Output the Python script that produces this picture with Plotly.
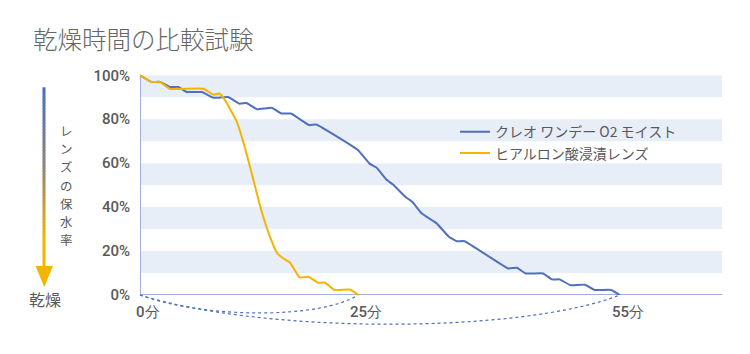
import plotly.graph_objects as go

# ---- data ----
blue_name = "クレオ ワンデー O2 モイスト"
blue_t = [0, 1.3, 2.3, 3.4, 4.4, 5.35, 7.1, 8.4, 10.1, 11.4, 12.2, 13.4, 15.1, 16.2, 17.3,
          19.4, 20.2, 25.0, 26.3, 27.1, 28.3, 29.0, 30.4, 31.2, 32.3, 34.0, 35.4, 36.3, 37.2,
          42.2, 43.2, 44.2, 46.2, 47.2, 48.1, 49.3, 51.0, 52.1, 54.0, 55]
blue_v = [100, 97, 97, 94.7, 94.7, 92.4, 92.4, 89.8, 90.1, 87.1, 87.4, 84.5, 85.2, 82.6, 82.6,
          77.3, 77.6, 65.9, 59.8, 58, 52.3, 50.3, 44.7, 42.4, 37.1, 32.6, 26.5, 24.5, 24.5,
          12.1, 12.4, 9.8, 9.8, 7.1, 7.1, 4.5, 4.7, 2.3, 2.3, 0]

orange_name = "ヒアルロン酸浸漬レンズ"
orange_t = [0, 1.3, 2.3, 3.4, 7.25, 8.4, 9.1, 9.55, 10.3, 11.1, 12.0, 13.0, 13.9, 14.9, 15.7,
            16.4, 17.2, 18.3, 19.3, 20.4, 21.2, 22.3, 24.1, 25]
orange_v = [100, 97, 97, 93.9, 93.9, 91.2, 91.7, 89.8, 84.8, 78.8, 67.4, 52.3, 38.6, 26.5, 19.2,
            16.7, 14.7, 8, 8.3, 5.6, 5.6, 2.3, 2.4, 0]

y_ticks = [0, 20, 40, 60, 80, 100]
y_tick_labels = ["0%", "20%", "40%", "60%", "80%", "100%"]
x_tick_vals = [0, 25, 55]
x_tick_labels = ["0分", "25分", "55分"]
band_starts = [10, 30, 50, 70, 90]
band_height = 10

title_text = "乾燥時間の比較試験"
side_label = "レンズの保水率"
bottom_label = "乾燥"

# ---- geometry ----
W, H = 750, 354
ML, MR, MB = 140, 28, 59
X_MAX = 66.7
Y_MAX = 101.5
PLOT_H = 220 * Y_MAX / 100
MT = H - MB - PLOT_H
PW = W - ML - MR


def px(x):
    return (x - ML) / PW


def py(y):
    return (H - MB - y) / PLOT_H


BLUE = "#5070bb"
ORANGE = "#f5b400"
TXT = "#595959"
AXIS = "#9eb0dc"
BAND = "#e8eef8"
CJK = "Noto Sans CJK JP"
NUM = "Roboto, sans-serif"

fig = go.Figure()
fig.add_trace(go.Scatter(x=blue_t, y=blue_v, mode="lines", name=blue_name,
                         line=dict(color=BLUE, width=2, shape="spline", smoothing=0.3)))
fig.add_trace(go.Scatter(x=orange_t, y=orange_v, mode="lines", name=orange_name,
                         line=dict(color=ORANGE, width=2, shape="spline", smoothing=0.5)))

shapes = []
for b in band_starts:
    shapes.append(dict(type="rect", xref="x", yref="y", x0=0, x1=X_MAX, y0=b, y1=b + band_height,
                       fillcolor=BAND, line=dict(width=0), layer="below"))
# axis lines
shapes.append(dict(type="line", xref="x", yref="y", x0=0, x1=0, y0=0, y1=100,
                   line=dict(color=AXIS, width=2), layer="below"))
shapes.append(dict(type="line", xref="x", yref="y", x0=0, x1=X_MAX, y0=0, y1=0,
                   line=dict(color=AXIS, width=2), layer="below"))


# dotted arcs (paper coords)
def arc(x0, x3, c1, c2, depth):
    p0 = (px(x0), py(295))
    p1 = (px(c1), py(295 + depth))
    p2 = (px(c2), py(295 + depth))
    p3 = (px(x3), py(295))
    return f"M {p0[0]},{p0[1]} C {p1[0]},{p1[1]} {p2[0]},{p2[1]} {p3[0]},{p3[1]}"


x25 = ML + 25 / X_MAX * PW
x55 = ML + 55 / X_MAX * PW
shapes.append(dict(type="path", xref="paper", yref="paper", path=arc(ML, x25, 205, 320, 24),
                   line=dict(color=BLUE, width=1.2, dash="dot")))
shapes.append(dict(type="path", xref="paper", yref="paper", path=arc(ML, x55, 265, 520, 39),
                   line=dict(color=BLUE, width=1.2, dash="dot")))


# gradient arrow
def lerp(a, b, f):
    return int(round(a + (b - a) * f))


c_top = (74, 108, 192)
c_mid = (140, 132, 120)
c_bot = (245, 180, 0)
y_a, y_b = 87, 267
n = 60
for i in range(n):
    f = i / (n - 1)
    if f < 0.45:
        g = f / 0.45
        col = tuple(lerp(c_top[k], c_mid[k], g) for k in range(3))
    elif f < 0.85:
        g = (f - 0.45) / 0.4
        col = tuple(lerp(c_mid[k], c_bot[k], g) for k in range(3))
    else:
        col = c_bot
    ya = y_a + (y_b - y_a) * i / n
    yb = y_a + (y_b - y_a) * (i + 1) / n + 0.5
    shapes.append(dict(type="line", xref="paper", yref="paper", x0=px(44), x1=px(44),
                       y0=py(ya), y1=py(yb), line=dict(color="rgb(%d,%d,%d)" % col, width=3)))
shapes.append(dict(type="path", xref="paper", yref="paper",
                   path=f"M {px(35.5)},{py(266)} L {px(53)},{py(266)} L {px(44.2)},{py(287)} Z",
                   fillcolor=ORANGE, line=dict(width=0)))

annotations = []
for i, ch in enumerate(side_label):
    annotations.append(dict(xref="paper", yref="paper", x=px(66), y=py(130 + i * 18.3),
                            text=ch, showarrow=False, xanchor="center", yanchor="middle",
                            borderpad=0,
                            font=dict(family=CJK, size=12.5, color=TXT)))
annotations.append(dict(xref="paper", yref="paper", x=px(45), y=py(299), text=bottom_label,
                        showarrow=False, xanchor="center", yanchor="middle",
                        font=dict(family=CJK, size=16, color=TXT)))
for v, t in zip(x_tick_vals, x_tick_labels):
    annotations.append(dict(xref="x", yref="paper", x=v, y=py(312), text=t, showarrow=False,
                            xanchor="center", yanchor="middle", xshift=8,
                            font=dict(family=NUM, size=15, color=TXT, weight=500)))

fig.update_layout(
    width=W, height=H,
    margin=dict(l=ML, r=MR, t=MT, b=MB),
    paper_bgcolor="white", plot_bgcolor="white",
    title=dict(text=title_text, x=33 / W, xanchor="left", y=1 - 40 / H, yanchor="middle",
               font=dict(family=CJK, size=24.5, color="#666666", weight=300)),
    xaxis=dict(range=[0, X_MAX], showgrid=False, zeroline=False, showline=False,
               showticklabels=False, ticks=""),
    yaxis=dict(range=[0, Y_MAX], tickmode="array", tickvals=y_ticks, ticktext=y_tick_labels,
               showgrid=False, zeroline=False, showline=False, ticks="", ticklabelstandoff=9,
               tickfont=dict(family=NUM, size=15, color=TXT, weight=500)),
    legend=dict(x=px(455), y=py(116), xanchor="left", yanchor="top", bgcolor="rgba(0,0,0,0)",
                font=dict(family=CJK, size=14, color=TXT), tracegroupgap=0, itemwidth=30),
    shapes=shapes,
    annotations=annotations,
    showlegend=True,
)

fig.write_html("out.html")
